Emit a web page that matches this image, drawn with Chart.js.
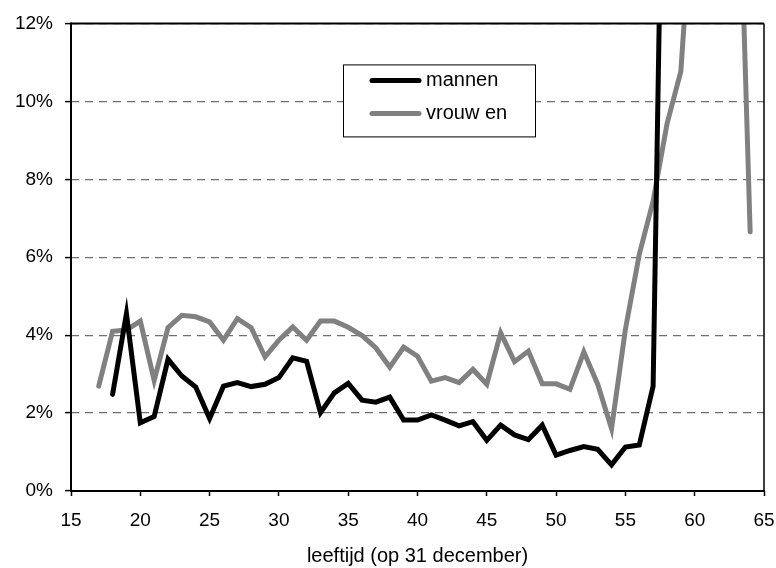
<!DOCTYPE html>
<html>
<head>
<meta charset="utf-8">
<script src="https://cdn.jsdelivr.net/npm/chart.js@4/dist/chart.umd.min.js"></script>
<style>
  html, body { margin: 0; padding: 0; background: #fff; }
  #wrap { width: 776px; height: 568px; }
</style>
</head>
<body>
<div id="wrap"><canvas id="chart" width="776" height="568"></canvas></div>
<script>
// leeftijden en percentages
const agesMannen = [18, 19, 20, 21, 22, 23, 24, 25, 26, 27, 28, 29, 30, 31, 32, 33, 34, 35, 36, 37,
  38, 39, 40, 41, 42, 43, 44, 45, 46, 47, 48, 49, 50, 51, 52, 53, 54, 55, 56, 57, 58];
const valuesMannen = [2.48, 4.55, 1.75, 1.91, 3.38, 2.95, 2.67, 1.86, 2.69, 2.78, 2.68, 2.74, 2.91, 3.42, 3.33, 2.01, 2.52, 2.76, 2.33, 2.28,
  2.41, 1.82, 1.82, 1.95, 1.82, 1.67, 1.78, 1.30, 1.69, 1.44, 1.32, 1.69, 0.92, 1.04, 1.14, 1.07, 0.67, 1.13, 1.18, 2.69, 24];

const agesVrouwen = [17, 18, 19, 20, 21, 22, 23, 24, 25, 26, 27, 28, 29, 30, 31, 32, 33, 34, 35, 36,
  37, 38, 39, 40, 41, 42, 43, 44, 45, 46, 47, 48, 49, 50, 51, 52, 53, 54, 55, 56, 57, 58, 59, 60, 61, 62, 63, 64];
const valuesVrouwen = [2.69, 4.10, 4.13, 4.36, 2.84, 4.19, 4.51, 4.47, 4.34, 3.87, 4.42, 4.19, 3.44, 3.87, 4.21, 3.87, 4.36, 4.36, 4.20, 3.99,
  3.67, 3.18, 3.69, 3.46, 2.82, 2.91, 2.78, 3.12, 2.74, 4.06, 3.32, 3.59, 2.75, 2.75, 2.61, 3.57, 2.74, 1.60, 4.15, 6.07, 7.44, 9.42, 10.77, 16, 20, 21, 18.6, 6.65];

const labelMannen = 'mannen';
const labelVrouwen = 'vrouw en';
const xTitle = 'leeftijd (op 31 december)';

function toPoints(xs, ys) {
  return xs.map((x, i) => ({ x: x, y: ys[i] }));
}

const fontFamily = '"Liberation Sans", Arial, sans-serif';

// kader rond het plotgebied
const frame = {
  id: 'frame',
  afterDatasetsDraw(chart) {
    const { ctx, chartArea: a } = chart;
    ctx.save();
    ctx.strokeStyle = '#000';
    ctx.lineWidth = 2;
    ctx.beginPath();
    ctx.moveTo(a.left, a.top);
    ctx.lineTo(a.right, a.top);
    ctx.stroke();
    ctx.lineWidth = 1.5;
    ctx.beginPath();
    ctx.moveTo(a.right, a.top);
    ctx.lineTo(a.right, a.bottom);
    ctx.stroke();
    ctx.lineWidth = 2;
    ctx.beginPath();
    ctx.moveTo(a.left, a.top - 1);
    ctx.lineTo(a.left, a.bottom + 1);
    ctx.moveTo(a.left - 1, a.bottom);
    ctx.lineTo(a.right + 1, a.bottom);
    ctx.stroke();
    ctx.restore();
  }
};

// legenda in het plotgebied
const boxLegend = {
  id: 'boxLegend',
  afterDraw(chart) {
    const { ctx, chartArea: a } = chart;
    const x = a.left + 272, y = a.top + 41, w = 192, h = 72;
    ctx.save();
    ctx.fillStyle = '#fff';
    ctx.fillRect(x, y, w, h);
    ctx.strokeStyle = '#000';
    ctx.lineWidth = 1;
    ctx.strokeRect(x + 0.5, y + 0.5, w, h);
    ctx.font = '20px ' + fontFamily;
    ctx.textBaseline = 'middle';
    chart.data.datasets.forEach((ds, i) => {
      const ly = y + 16 + i * 33;
      ctx.strokeStyle = ds.borderColor;
      ctx.lineWidth = 5;
      ctx.lineCap = 'round';
      ctx.beginPath();
      ctx.moveTo(x + 29, ly);
      ctx.lineTo(x + 76, ly);
      ctx.stroke();
      ctx.fillStyle = '#000';
      ctx.fillText(ds.label, x + 83, ly);
    });
    ctx.restore();
  }
};

let ctx = document.getElementById('chart').getContext('2d');

new Chart(ctx, {
  type: 'line',
  data: {
    datasets: [{
      label: labelMannen,
      data: toPoints(agesMannen, valuesMannen),
      borderColor: '#000000',
      borderWidth: 5,
      pointRadius: 0,
      borderCapStyle: 'round',
      clip: 0
    }, {
      label: labelVrouwen,
      data: toPoints(agesVrouwen, valuesVrouwen),
      borderColor: '#808080',
      borderWidth: 5,
      pointRadius: 0,
      borderCapStyle: 'round',
      clip: 0
    }]
  },
  options: {
    responsive: false,
    animation: false,
    events: [],
    layout: { padding: { left: 0, right: 12, top: 22, bottom: 0 } },
    plugins: {
      legend: { display: false },
      tooltip: { enabled: false }
    },
    scales: {
      x: {
        type: 'linear',
        position: 'bottom',
        min: 15,
        max: 65,
        afterFit: function(scale) {
          scale.height = 77;
          scale.paddingLeft = 0;
          scale.paddingRight = 0;
        },
        ticks: {
          stepSize: 5,
          color: '#000',
          padding: 13,
          maxRotation: 0,
          font: { family: fontFamily, size: 19 }
        },
        grid: {
          drawOnChartArea: false,
          drawTicks: true,
          tickLength: 5,
          tickColor: '#000',
          tickWidth: 1.5
        },
        border: { display: false },
        title: {
          display: true,
          text: xTitle,
          color: '#000',
          padding: { top: 2, bottom: 0 },
          font: { family: fontFamily, size: 20 }
        }
      },
      y: {
        type: 'linear',
        position: 'left',
        min: 0,
        max: 12,
        afterFit: function(scale) { scale.width = 71; },
        ticks: {
          stepSize: 2,
          color: '#000',
          padding: 12,
          font: { family: fontFamily, size: 19 },
          callback: function(v) { return v + '%'; }
        },
        grid: {
          color: '#707070',
          lineWidth: 1.2,
          tickLength: 6,
          tickColor: '#000',
          tickWidth: 1.5,
          tickBorderDash: []
        },
        border: { display: false, dash: [8, 6] }
      }
    }
  },
  plugins: [frame, boxLegend]
});
</script>
</body>
</html>
